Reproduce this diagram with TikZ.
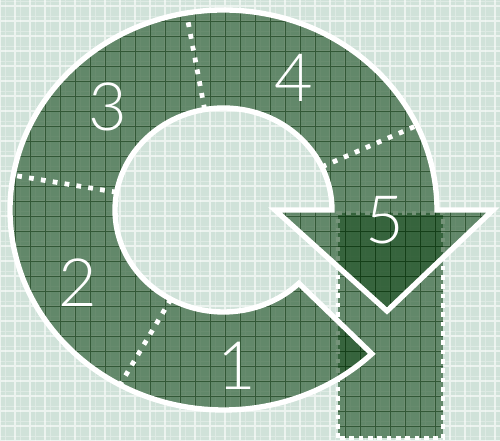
\documentclass[tikz,border=0pt]{standalone}
\usepackage{fontspec}
\newfontfamily\numfont{Lato Light}
\usetikzlibrary{calc}
\definecolor{bgmint}{RGB}{208,226,217}
\definecolor{ringgreen}{RGB}{26,76,32}
\definecolor{gridgreen}{RGB}{10,52,14}
\tikzset{every picture/.style={line width=0.75pt}}
\tikzset{
  ringfill/.style={fill=ringgreen, fill opacity=0.6},
  ringedge/.style={draw=white, line width=4pt, line join=miter},
  darkgrid/.style={gridgreen, line width=0.6pt, opacity=0.6},
  sepline/.style={white, line width=3.6pt, dash pattern=on 3.6pt off 5.4pt},
  boxedge/.style={white, line width=3.4pt, dash pattern=on 3.4pt off 3.6pt},
  num/.style={text=white, inner sep=0pt, font=\numfont\fontsize{50}{52}\selectfont},
}
% outline of the circular arrow
\def\arrowpath{(C) ++(-46:213.5 and 200)
  arc[start angle=-46, end angle=-360, x radius=213.5, y radius=200]
  -- (493,231) -- (387,130) -- (275,231) -- ($(C)+(108.5,0)$)
  arc[start angle=-360, end angle=-46, x radius=108.5, y radius=102] -- cycle}

\begin{document}
\begin{tikzpicture}[x=0.75pt, y=0.75pt]
    \useasboundingbox (0,0) rectangle (500,441);
    \coordinate (C) at (223.5,231);

    % background with light plaid
    \fill[bgmint] (0,0) rectangle (500,441);
    \draw[white, opacity=0.6, line width=0.8pt] (0,0) grid[step={(15,15)}] (500,441);
    \draw[white, opacity=0.3, line width=0.5pt, shift={(5,5)}] (-5,-5) grid[step={(15,15)}] (500,441);

    % step 5: the tall box
    \fill[ringgreen, fill opacity=0.6] (338,3) rectangle (443,228);
    \begin{scope}
        \clip (338,3) rectangle (443,228);
        \draw[darkgrid] (0,0) grid[step={(15,15)}] (500,441);
    \end{scope}
    \draw[boxedge] (338,3) rectangle (443,228);

    % circular arrow
    \fill[ringfill] \arrowpath;
    \begin{scope}
        \clip \arrowpath;
        \draw[darkgrid] (0,0) grid[step={(15,15)}] (500,441);
    \end{scope}

    % borders between the steps
    \foreach \a in {-119,170,100,25}
        \draw[sepline] ($(C)+(\a:108.5 and 102)$) -- ($(C)+(\a:213.5 and 200)$);

    \draw[ringedge] \arrowpath;

    % step numbers
    \node[num] (n1) at (237,75) {1};
    \node[num] (n2) at (78,158) {2};
    \node[num] (n3) at (108,334) {3};
    \node[num] (n4) at (294,363) {4};
    \node[num] (n5) at (385,221) {5};
\end{tikzpicture}
\end{document}
